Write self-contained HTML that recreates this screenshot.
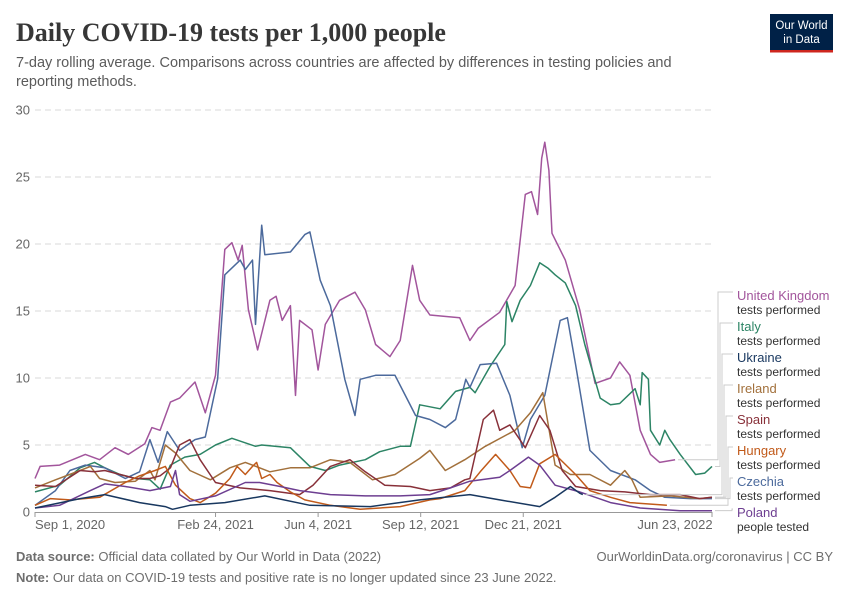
<!DOCTYPE html>
<html><head><meta charset="utf-8"><style>
body{margin:0;background:#fff;font-family:"Liberation Sans",sans-serif;}
#wrap{position:relative;width:850px;height:600px;overflow:hidden;}
</style></head><body>
<div id="wrap">
<svg id="chart" width="850" height="600" xmlns="http://www.w3.org/2000/svg">
<text x="16" y="41" font-family="Liberation Serif, serif" font-weight="bold" font-size="26" fill="#373737">Daily COVID-19 tests per 1,000 people</text>
<text x="16" y="67" font-size="14.5" fill="#5b5b5b">7-day rolling average. Comparisons across countries are affected by differences in testing policies and</text>
<text x="16" y="86" font-size="14.5" fill="#5b5b5b">reporting methods.</text>
<g>
<rect x="770" y="14" width="63" height="36" fill="#002147"/>
<rect x="770" y="50" width="63" height="2.5" fill="#ce261e"/>
<text x="801.5" y="29" text-anchor="middle" font-size="11.5" fill="#fff">Our World</text>
<text x="801.5" y="43" text-anchor="middle" font-size="11.5" fill="#fff">in Data</text>
</g>
<g id="grid"></g><g id="axes"></g><g id="series"></g><g id="legend"></g>
<text x="16" y="561" font-size="13" fill="#6e6e6e"><tspan font-weight="bold">Data source:</tspan> Official data collated by Our World in Data (2022)</text>
<text x="833" y="561" text-anchor="end" font-size="13" fill="#6e6e6e">OurWorldinData.org/coronavirus | CC BY</text>
<text x="16" y="582" font-size="13" fill="#6e6e6e"><tspan font-weight="bold">Note:</tspan> Our data on COVID-19 tests and positive rate is no longer updated since 23 June 2022.</text>
</svg>
</div>
<script>
// days since Sep 1, 2020
const yTicks=[0,5,10,15,20,25,30];
const xTickDays=[0,176,276,376,476,660];
const xTickLabels=["Sep 1, 2020","Feb 24, 2021","Jun 4, 2021","Sep 12, 2021","Dec 21, 2021","Jun 23, 2022"];
const seriesNames=["United Kingdom","Italy","Ukraine","Ireland","Spain","Hungary","Czechia","Poland"];
const seriesSub=["tests performed","tests performed","tests performed","tests performed","tests performed","tests performed","tests performed","people tested"];
const seriesColors=["#a2559c","#2c8465","#18375f","#a2703b","#883039","#c15a1a","#4c6a9c","#6d3e91"];
const ukDays=[0,5,24,49,63,78,91,107,114,122,132,141,156,166,176,185,192,198,202,208,217,229,235,241,249,254,258,270,276,283,297,312,322,332,346,356,368,375,385,414,424,432,453,468,478,484,490,494,497,501,504,517,531,546,561,570,580,590,600,609,624];
const ukVals=[2.5,3.4,3.5,4.3,3.9,4.8,4.3,5.1,6.3,6.1,8.2,8.5,9.7,7.4,10.2,19.6,20.1,18.8,19.9,15.1,12.1,15.8,16.1,14.3,15.4,8.7,14.3,13.6,10.6,14.0,15.8,16.4,15.1,12.5,11.6,12.8,18.4,15.8,14.7,14.5,12.8,13.7,14.9,16.9,23.7,23.9,22.2,26.4,27.6,25.5,20.8,18.8,15.1,9.6,10.0,11.2,10.2,6.1,4.3,3.7,3.9];
const itDays=[0,24,44,58,68,83,98,112,122,132,146,161,176,192,215,221,249,268,283,297,322,336,356,366,375,395,410,424,429,444,458,460,465,473,483,492,500,507,517,527,536,551,561,570,585,590,592,598,600,609,614,619,629,644,653,660];
const itVals=[1.5,2.0,3.3,3.7,3.3,2.8,2.5,2.4,1.7,3.5,4.1,4.3,5.0,5.5,4.9,5.0,4.8,3.4,3.1,3.5,3.9,4.5,4.9,4.9,8.0,7.7,9.0,9.3,8.9,10.9,12.5,15.7,14.2,15.8,16.9,18.6,18.2,17.7,17.1,15.4,12.5,8.5,8.0,8.1,9.2,8.0,10.4,9.9,6.1,5.0,6.1,5.4,4.3,2.8,2.9,3.4];
const uaDays=[0,44,68,102,127,134,151,185,224,268,327,375,424,453,492,507,522,531,534];
const uaVals=[0.3,1.0,1.3,0.7,0.4,0.2,0.5,0.7,1.2,0.5,0.4,0.9,1.3,0.9,0.4,1.1,1.9,1.4,1.3];
const ieDays=[0,20,44,54,63,78,98,112,117,127,137,151,171,190,205,229,249,268,288,307,329,351,375,385,400,419,439,468,483,495,507,522,541,561,575,582,590,619,648,660];
const ieVals=[1.8,2.4,3.1,3.4,2.5,2.2,2.3,3.1,2.4,5.0,4.4,3.1,2.4,3.3,3.7,3.0,3.3,3.3,3.9,3.7,2.4,2.8,4.0,4.6,3.1,3.9,4.9,6.1,7.4,8.9,3.5,2.8,2.8,2.0,3.1,2.4,1.1,1.2,1.0,1.1];
const esDays=[0,20,44,58,68,83,98,112,122,132,141,151,161,176,200,229,258,271,288,307,322,341,366,385,405,419,424,437,447,453,463,478,492,502,514,527,551,575,600,629,648,660];
const esVals=[2.0,1.9,3.1,3.0,3.1,2.8,2.5,2.5,2.7,3.3,5.0,5.4,3.9,2.2,1.8,1.6,1.3,2.0,3.4,3.9,3.0,2.0,1.9,1.6,1.8,2.4,2.5,6.9,7.6,6.1,6.5,4.8,7.2,6.1,3.1,1.9,1.6,1.5,1.3,1.3,1.0,1.1];
const huDays=[0,15,34,63,88,102,117,127,137,151,161,176,190,197,205,212,216,221,229,236,249,263,288,317,356,385,395,419,434,449,463,473,483,492,507,527,541,561,580,616];
const huVals=[0.5,1.0,0.9,1.1,2.2,2.7,3.1,3.4,2.0,1.0,0.7,1.4,2.5,3.4,2.8,3.4,3.7,2.5,2.8,2.2,1.5,0.9,0.5,0.2,0.4,0.9,1.0,1.6,3.0,4.3,3.1,1.9,1.8,3.6,4.3,2.8,1.6,1.1,0.7,0.5];
const czDays=[0,20,34,49,68,88,102,112,120,129,141,156,166,178,185,200,205,212,215,221,224,249,263,268,278,288,302,312,317,332,351,361,371,385,400,410,420,424,434,450,463,475,483,497,512,519,527,541,561,585,600,614,639,660];
const czVals=[0.5,1.6,3.1,3.5,3.3,2.5,3.0,5.4,3.7,6.0,4.6,5.4,5.6,9.9,17.7,18.8,18.1,18.8,14.0,21.4,19.2,19.4,20.7,20.9,17.3,15.4,9.9,7.2,9.9,10.2,10.2,8.7,7.2,6.9,6.3,6.9,9.9,9.3,11.0,11.1,8.7,4.8,6.9,8.7,14.3,14.5,11.0,4.6,3.1,2.4,1.6,1.1,1.0,1.0];
const plDays=[0,24,54,68,88,112,132,137,141,151,176,205,219,239,258,288,322,356,385,405,424,453,463,481,492,507,531,561,590,629,660];
const plVals=[0.3,0.5,1.6,2.1,1.9,1.6,1.9,3.1,1.3,0.8,1.2,2.2,2.2,1.9,1.6,1.3,1.2,1.2,1.3,1.8,2.3,2.6,3.1,4.1,3.5,2.0,1.5,0.7,0.3,0.1,0.1];

const seriesDays=[ukDays,itDays,uaDays,ieDays,esDays,huDays,czDays,plDays];
const seriesVals=[ukVals,itVals,uaVals,ieVals,esVals,huVals,czVals,plVals];
const seriesKeys=["uk","italy","ukraine","ireland","spain","hungary","czechia","poland"];

const X0=35,X1=712,Y0=512,Y1=110,DMAX=660,VMAX=30;
function xs(d){return X0+d*(X1-X0)/DMAX;}
function ys(v){return Y0-v*(Y0-Y1)/VMAX;}
const NS="http://www.w3.org/2000/svg";
function mk(tag,attrs,parent){const e=document.createElementNS(NS,tag);for(const k in attrs)e.setAttribute(k,attrs[k]);parent.appendChild(e);return e;}
const grid=document.getElementById('grid'),axes=document.getElementById('axes'),ser=document.getElementById('series'),leg=document.getElementById('legend');
yTicks.forEach(t=>{
  if(t>0){const l=mk('line',{x1:X0,x2:X1,y1:ys(t),y2:ys(t),stroke:'#dadada','stroke-dasharray':'6,4'},grid);
  
  }
  const tx=mk('text',{x:30,y:ys(t)+4.5,'text-anchor':'end','font-size':'13',fill:'#666'},axes);
  tx.textContent=t;
  
  
});
const ax=mk('line',{x1:X0,x2:X1,y1:Y0+0.5,y2:Y0+0.5,stroke:'#999'},axes);


xTickDays.forEach((d,i)=>{
  const tk=mk('line',{x1:xs(d),x2:xs(d),y1:Y0,y2:Y0+5,stroke:'#999'},axes);
  
  
  let anchor='middle',x=xs(d);
  if(i===0){anchor='start';x=X0;} if(i===xTickDays.length-1){anchor='middle';x=xs(d)-37;}
  const tx=mk('text',{x:x,y:Y0+17,'text-anchor':anchor,'font-size':'13',fill:'#666'},axes);
  tx.textContent=xTickLabels[i];
  
  
});
// draw order: back to front
[0,1,6,3,4,5,7,2].forEach(i=>{
  const pts=seriesDays[i].map((d,j)=>xs(d).toFixed(1)+','+ys(seriesVals[i][j]).toFixed(1)).join(' ');
  const p=mk('polyline',{points:pts,fill:'none',stroke:seriesColors[i],'stroke-width':'1.5','stroke-linejoin':'round'},ser);
  
  
});
// legend
const labY=[296,327,358,389,420,451,482,513];
const vx=[718,720,722,724,726,728,730,732];
seriesNames.forEach((n,i)=>{
  const dArr=seriesDays[i],vArr=seriesVals[i];
  const ey=ys(vArr[vArr.length-1]), ex=xs(dArr[dArr.length-1]);
  const c=mk('polyline',{points:(ex+3)+','+ey+' '+vx[i]+','+ey+' '+vx[i]+','+(labY[i]-4)+' '+733+','+(labY[i]-4),fill:'none',stroke:'#ccc','stroke-width':'1'},leg);
  
  
  const t=mk('text',{x:737,y:labY[i]+4,'font-size':'13',fill:seriesColors[i]},leg);
  t.textContent=n;
  
  
  const s=mk('text',{x:737,y:labY[i]+18,'font-size':'12',fill:'#333'},leg);
  s.textContent=seriesSub[i];
  
  
});
</script>
</body></html>
